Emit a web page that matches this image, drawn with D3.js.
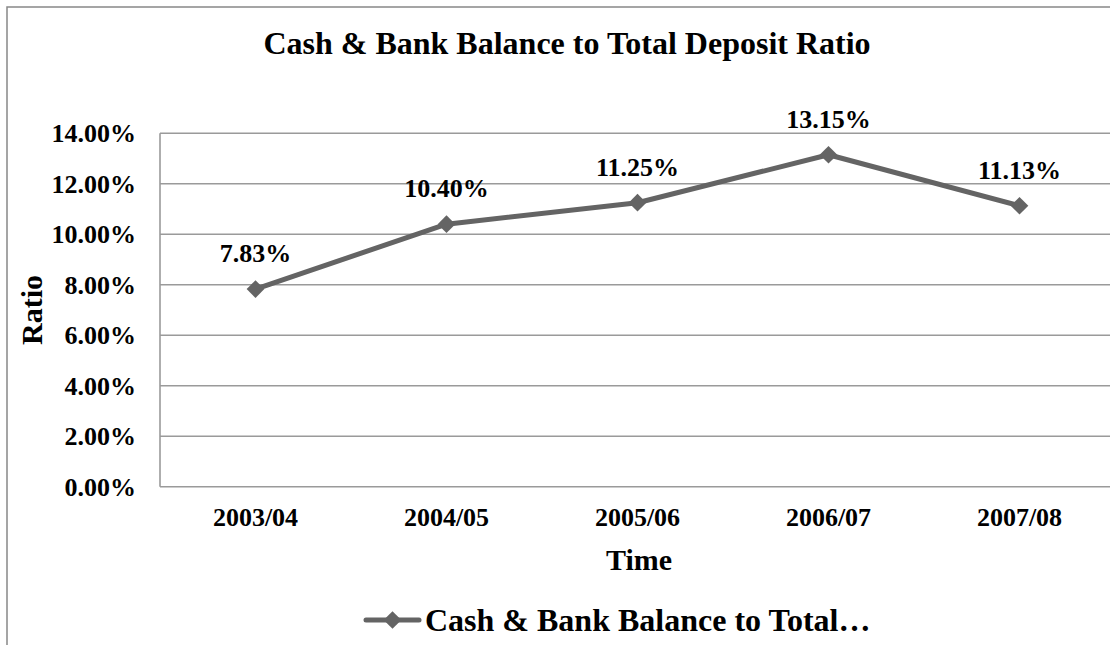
<!DOCTYPE html>
<html>
<head>
<meta charset="utf-8">
<script src="https://cdn.jsdelivr.net/npm/d3@7/dist/d3.min.js"></script>
<style>
  html, body { margin: 0; padding: 0; background: #fff; }
  svg { display: block; }
</style>
</head>
<body>
<svg id="chart" width="1110" height="645"></svg>
<script>
// Data
const categories = ["2003/04", "2004/05", "2005/06", "2006/07", "2007/08"];
const ratioValues = [7.83, 10.40, 11.25, 13.15, 11.13];
const yTicks = [0, 2, 4, 6, 8, 10, 12, 14];
const seriesName = "Cash & Bank Balance to Total…";

const FONT = "'Liberation Serif', Tinos, 'Nimbus Roman', 'Times New Roman', 'DejaVu Serif', serif";

const svg = d3.select("#chart")
  .attr("font-family", FONT)
  .attr("font-weight", "bold");
const W = 1110, H = 645;

// Outer chart frame (extends past the right and bottom edges)
svg.append("rect")
  .attr("x", 7).attr("y", 7)
  .attr("width", W + 20).attr("height", H + 20)
  .attr("fill", "#fff")
  .attr("stroke", "#888").attr("stroke-width", 1.5);

const plot = { left: 160, top: 133.3, bottom: 486.7 };
const band = 191;

const x = d3.scaleBand()
  .domain(categories)
  .range([plot.left, plot.left + band * categories.length])
  .paddingInner(0).paddingOuter(0);

const y = d3.scaleLinear()
  .domain([0, 14])
  .range([plot.bottom, plot.top]);

const lineColor = "#646464";
const gridColor = "#9a9a9a";

// Horizontal gridlines
svg.append("g")
  .selectAll("line")
  .data(yTicks)
  .join("line")
  .attr("x1", plot.left).attr("x2", W + 10)
  .attr("y1", d => y(d)).attr("y2", d => y(d))
  .attr("stroke", gridColor).attr("stroke-width", 1.6);

// Vertical axis line
svg.append("line")
  .attr("x1", plot.left).attr("x2", plot.left)
  .attr("y1", y(14)).attr("y2", y(0))
  .attr("stroke", gridColor).attr("stroke-width", 1.6);

// Y tick labels
svg.append("g")
  .selectAll("text")
  .data(yTicks)
  .join("text")
  .attr("x", 136)
  .attr("y", d => y(d) + 9)
  .attr("text-anchor", "end")
  .attr("font-size", 26)
  .text(d => d.toFixed(2) + "%");

// X tick labels
svg.append("g")
  .selectAll("text")
  .data(categories)
  .join("text")
  .attr("x", d => x(d) + x.bandwidth() / 2)
  .attr("y", 526)
  .attr("text-anchor", "middle")
  .attr("font-size", 26)
  .text(d => d);

// Series line
const pts = categories.map((c, i) => ({ c, v: ratioValues[i] }));
const line = d3.line()
  .x(d => x(d.c) + x.bandwidth() / 2)
  .y(d => y(d.v));

svg.append("path")
  .datum(pts)
  .attr("d", line)
  .attr("fill", "none")
  .attr("stroke", lineColor)
  .attr("stroke-width", 5)
  .attr("stroke-linejoin", "round");

// Diamond markers
const diamond = d3.symbol().type(d3.symbolDiamond2).size(200);
svg.append("g")
  .selectAll("path")
  .data(pts)
  .join("path")
  .attr("d", diamond)
  .attr("transform", d => `translate(${x(d.c) + x.bandwidth() / 2},${y(d.v)})`)
  .attr("fill", lineColor);

// Data labels
svg.append("g")
  .selectAll("text")
  .data(pts)
  .join("text")
  .attr("x", d => x(d.c) + x.bandwidth() / 2)
  .attr("y", d => y(d.v) - 27)
  .attr("text-anchor", "middle")
  .attr("font-size", 26)
  .text(d => d.v.toFixed(2) + "%");

// Title
svg.append("text")
  .attr("x", 567)
  .attr("y", 54)
  .attr("text-anchor", "middle")
  .attr("font-size", 32)
  .text("Cash & Bank Balance to Total Deposit Ratio");

// Axis titles
svg.append("text")
  .attr("x", 639)
  .attr("y", 570)
  .attr("text-anchor", "middle")
  .attr("font-size", 30)
  .text("Time");

svg.append("text")
  .attr("transform", "translate(42,310) rotate(-90)")
  .attr("text-anchor", "middle")
  .attr("font-size", 30)
  .text("Ratio");

// Legend
const legend = svg.append("g");
legend.append("line")
  .attr("x1", 366).attr("x2", 419)
  .attr("y1", 620).attr("y2", 620)
  .attr("stroke", lineColor).attr("stroke-width", 5)
  .attr("stroke-linecap", "round");
legend.append("path")
  .attr("d", diamond)
  .attr("transform", "translate(392.5,620)")
  .attr("fill", lineColor);
legend.append("text")
  .attr("x", 425)
  .attr("y", 631)
  .attr("font-size", 32)
  .text(seriesName);
</script>
</body>
</html>
